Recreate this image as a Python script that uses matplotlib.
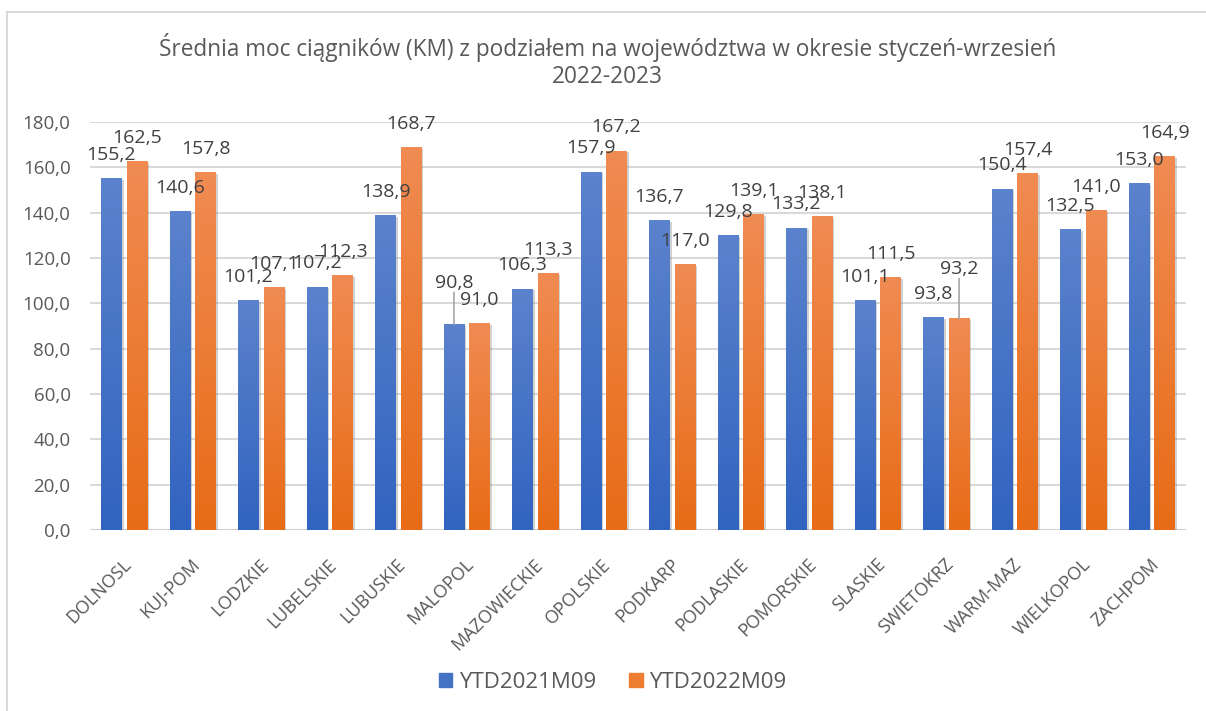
import numpy as np
import matplotlib.pyplot as plt
from matplotlib.colors import LinearSegmentedColormap
from matplotlib.patches import Rectangle
import matplotlib.patheffects as pe
import matplotlib.transforms as mtransforms

plt.rcParams['font.family'] = ['Open Sans', 'DejaVu Sans']

# Dane
wojewodztwa = ['DOLNOSL', 'KUJ-POM', 'LODZKIE', 'LUBELSKIE', 'LUBUSKIE', 'MALOPOL',
               'MAZOWIECKIE', 'OPOLSKIE', 'PODKARP', 'PODLASKIE', 'POMORSKIE', 'SLASKIE',
               'SWIETOKRZ', 'WARM-MAZ', 'WIELKOPOL', 'ZACHPOM']
ytd2021 = [155.2, 140.6, 101.2, 107.2, 138.9, 90.8, 106.3, 157.9,
           136.7, 129.8, 133.2, 101.1, 93.8, 150.4, 132.5, 153.0]
ytd2022 = [162.5, 157.8, 107.1, 112.3, 168.7, 91.0, 113.3, 167.2,
           117.0, 139.1, 138.1, 111.5, 93.2, 157.4, 141.0, 164.9]
serie = ['YTD2021M09', 'YTD2022M09']

szary = '#595959'
grad_blue = LinearSegmentedColormap.from_list('b', ['#3164c0', '#5b82cc'])
grad_orange = LinearSegmentedColormap.from_list('o', ['#e86c17', '#f08b52'])

fig = plt.figure(figsize=(12.06, 7.11), dpi=100)
ax = fig.add_axes([90 / 1206, 1 - 530 / 711, 1096 / 1206, 408 / 711])

x = np.arange(len(wojewodztwa))
w = 0.30
off = 0.187
grad = np.linspace(0, 1, 100).reshape(-1, 1)

for vals, dx, cmap, base in [(ytd2021, -off, grad_blue, '#4472c4'),
                             (ytd2022, off, grad_orange, '#ed7d31')]:
    bars = ax.bar(x + dx, vals, w, color=base, zorder=2)
    for b in bars:
        b.set_path_effects([pe.SimplePatchShadow(offset=(1.5, -1), shadow_rgbFace='#808080', alpha=0.35),
                            pe.Normal()])
        x0, y0, bw, bh = b.get_x(), b.get_y(), b.get_width(), b.get_height()
        ax.imshow(grad, extent=(x0, x0 + bw, y0, y0 + bh), origin='lower',
                  cmap=cmap, aspect='auto', zorder=3)

# Etykiety danych
leader = {(0, 5): 30, (1, 12): 36}
for s, (vals, dx) in enumerate([(ytd2021, -off), (ytd2022, off)]):
    for i, v in enumerate(vals):
        dy = 17
        if (s, i) in leader:
            dy = leader[(s, i)]
            ax.annotate('', xy=(i + dx, v), xytext=(0, dy - 7), textcoords='offset points',
                        arrowprops=dict(arrowstyle='-', color='#a6a6a6', lw=1.2,
                                        shrinkA=0, shrinkB=0), zorder=4)
        ax.annotate(f'{v:.1f}'.replace('.', ','), xy=(i + dx, v), xytext=(0, dy),
                    textcoords='offset points', ha='center', va='center',
                    fontsize=14, color='#404040', zorder=5)

ax.set_xlim(-0.5, len(wojewodztwa) - 0.5)
ax.set_ylim(0, 180)
ax.set_yticks(np.arange(0, 181, 20))
ax.set_yticklabels([f'{t:.1f}'.replace('.', ',') for t in np.arange(0, 181, 20)])
ax.set_xticks(x)
ax.set_xticklabels(wojewodztwa, rotation=45, ha='right', rotation_mode='anchor')
ax.tick_params(axis='y', length=0, colors=szary, labelsize=13.5, pad=14)
ax.tick_params(axis='x', length=0, colors=szary, labelsize=13, pad=14)
shift = mtransforms.ScaledTranslation(-2 / 100, -6 / 100, fig.dpi_scale_trans)
for lab in ax.get_xticklabels():
    lab.set_transform(lab.get_transform() + shift)
ax.grid(axis='y', color='#d9d9d9', lw=1.5, zorder=0)
ax.set_axisbelow(True)
for sp in ax.spines.values():
    sp.set_visible(False)
ax.axhline(0, color='#d0d0d0', lw=2, zorder=1)

fig.text(0.504, 1 - 47 / 711, 'Średnia moc ciągników (KM) z podziałem na województwa w okresie styczeń-wrzesień',
         ha='center', va='center', fontsize=16.3, color=szary)
fig.text(0.504, 1 - 77 / 711, '2022-2023', ha='center', va='center', fontsize=16.3, color=szary)

handles = [Rectangle((0, 0), 1, 1, color='#4472c4'), Rectangle((0, 0), 1, 1, color='#ed7d31')]
fig.legend(handles, serie, loc='center', bbox_to_anchor=(0.508, 1 - 682 / 711), ncol=2,
           frameon=False, fontsize=16, labelcolor=szary, handlelength=0.6, handleheight=0.6,
           handletextpad=0.3, columnspacing=1.5)

fig.patches.append(Rectangle((7 / 1206, -0.1), 1.2, 1 - 12 / 711 + 0.1, transform=fig.transFigure,
                             fill=False, edgecolor='#d9d9d9', lw=1.5))

fig.savefig('out.png', dpi=100)
